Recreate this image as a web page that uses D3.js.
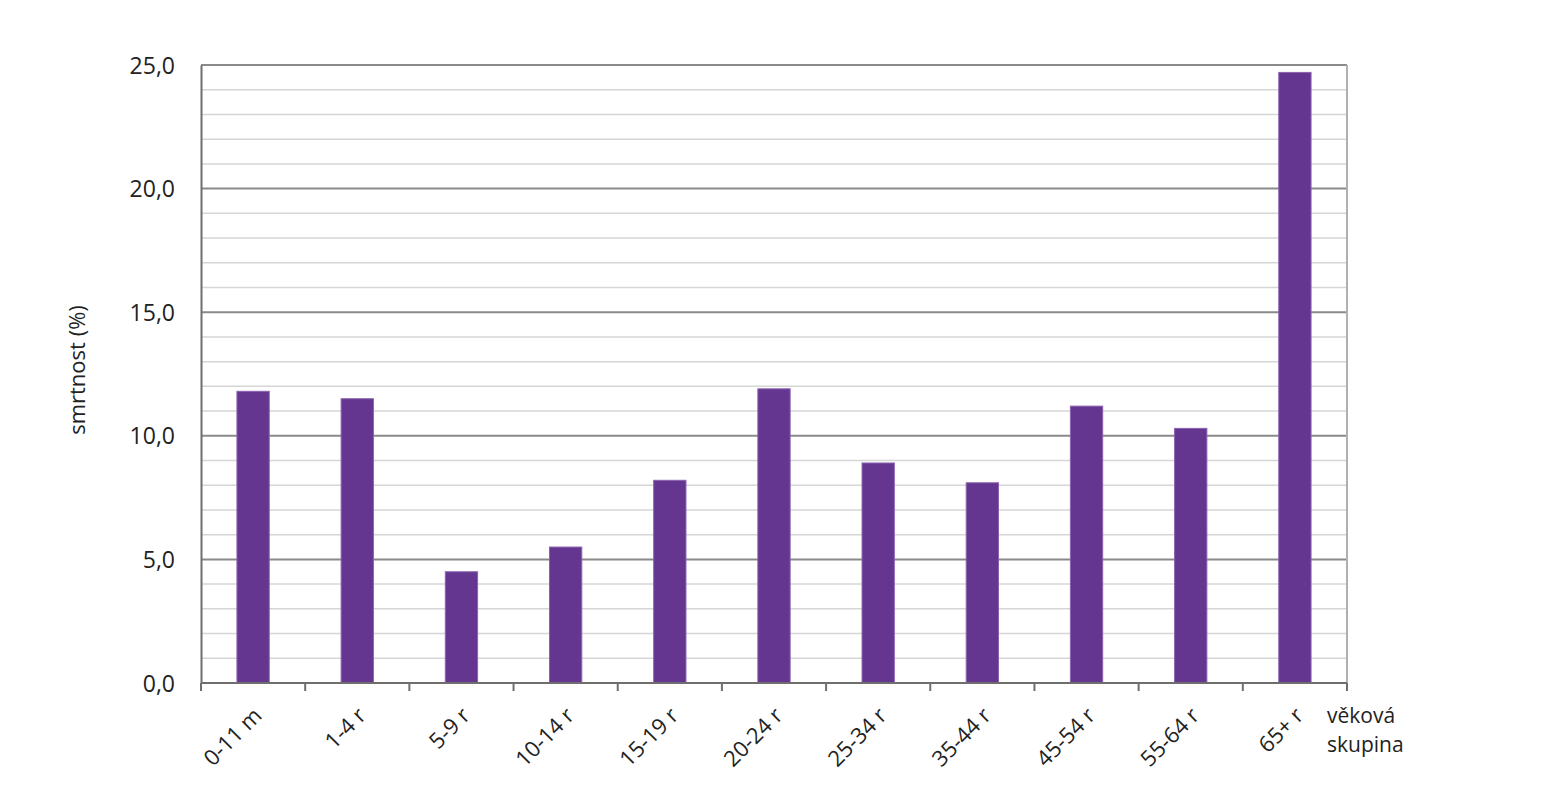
<!DOCTYPE html>
<html>
<head>
<meta charset="utf-8">
<script src="https://cdn.jsdelivr.net/npm/d3@7"></script>
<style>
  body { margin: 0; background: #fff; }
  text { font-family: "Open Sans", sans-serif; fill: #222; }
</style>
</head>
<body>
<div id="chart"></div>
<script>
// age groups and case fatality (%)
var groups = ['0-11 m', '1-4 r', '5-9 r', '10-14 r', '15-19 r', '20-24 r',
              '25-34 r', '35-44 r', '45-54 r', '55-64 r', '65+ r'];
var values = [11.8, 11.5, 4.5, 5.5, 8.2, 11.9, 8.9, 8.1, 11.2, 10.3, 24.7];
var majorTicks = [0, 5, 10, 15, 20, 25];
var minorTicks = d3.range(0, 26, 1);

var width = 1550, height = 800;
var plotLeft = 201, plotRight = 1347, plotTop = 65, plotBottom = 683;

var svg = d3.select("#chart").append("svg")
  .attr("width", width)
  .attr("height", height);

var x = d3.scaleBand()
  .domain(groups)
  .range([plotLeft, plotRight])
  .paddingInner(0)
  .paddingOuter(0);

var y = d3.scaleLinear()
  .domain([0, 25])
  .range([plotBottom, plotTop]);

// minor grid
svg.append("g").selectAll("line")
  .data(minorTicks.filter(function(d) { return d % 5 != 0; }))
  .enter().append("line")
  .attr("x1", plotLeft).attr("x2", plotRight)
  .attr("y1", function(d) { return y(d); })
  .attr("y2", function(d) { return y(d); })
  .attr("stroke", "#d6d6d6")
  .attr("stroke-width", 1.5);

// major grid
svg.append("g").selectAll("line")
  .data(majorTicks.filter(function(d) { return d > 0; }))
  .enter().append("line")
  .attr("x1", plotLeft).attr("x2", plotRight)
  .attr("y1", function(d) { return y(d); })
  .attr("y2", function(d) { return y(d); })
  .attr("stroke", "#8a8a8a")
  .attr("stroke-width", 2);

// right border
svg.append("line")
  .attr("x1", plotRight).attr("x2", plotRight)
  .attr("y1", plotTop).attr("y2", plotBottom)
  .attr("stroke", "#b0b0b0")
  .attr("stroke-width", 2);

// bars
svg.append("g").selectAll("rect")
  .data(values)
  .enter().append("rect")
  .attr("x", function(d, i) { return x(groups[i]) + x.bandwidth() * 0.345; })
  .attr("width", x.bandwidth() * 0.31)
  .attr("y", function(d) { return y(d); })
  .attr("height", function(d) { return y(0) - y(d); })
  .attr("fill", "#65368f")
  .attr("stroke", "#8a62b0")
  .attr("stroke-width", 1);

// y axis
var yAxis = d3.axisLeft(y)
  .tickValues(majorTicks)
  .tickSize(0)
  .tickPadding(26)
  .tickFormat(function(d) { return d3.format(".1f")(d).replace(".", ","); });

var gy = svg.append("g")
  .attr("transform", "translate(" + plotLeft + ",0)")
  .call(yAxis);
gy.select(".domain").attr("stroke", "#6e6e6e").attr("stroke-width", 2);
gy.selectAll("text")
  .style("font-size", "23px")
  .attr("dy", "0.35em");

// x axis
var gx = svg.append("g")
  .attr("transform", "translate(0," + plotBottom + ")");
gx.append("line")
  .attr("x1", plotLeft).attr("x2", plotRight)
  .attr("stroke", "#6e6e6e")
  .attr("stroke-width", 2);
gx.selectAll("line.tick")
  .data(groups.concat(["end"]))
  .enter().append("line")
  .attr("class", "tick")
  .attr("x1", function(d, i) { return plotLeft + i * x.bandwidth(); })
  .attr("x2", function(d, i) { return plotLeft + i * x.bandwidth(); })
  .attr("y1", 0).attr("y2", 8)
  .attr("stroke", "#6e6e6e")
  .attr("stroke-width", 2);

gx.selectAll("text.lbl")
  .data(groups)
  .enter().append("text")
  .attr("class", "lbl")
  .attr("text-anchor", "end")
  .attr("transform", function(d) {
    return "translate(" + (x(d) + x.bandwidth() / 2 + 10) + ",34) rotate(-45)";
  })
  .style("font-size", "22px")
  .text(function(d) { return d; });

// axis titles
svg.append("text")
  .attr("transform", "translate(85,370) rotate(-90)")
  .attr("text-anchor", "middle")
  .style("font-size", "22px")
  .text("smrtnost (%)");

var xt = svg.append("text")
  .attr("x", 1327)
  .attr("y", 723)
  .style("font-size", "21px");
xt.append("tspan").attr("x", 1327).text("věková");
xt.append("tspan").attr("x", 1327).attr("dy", 29).text("skupina");
</script>
</body>
</html>
